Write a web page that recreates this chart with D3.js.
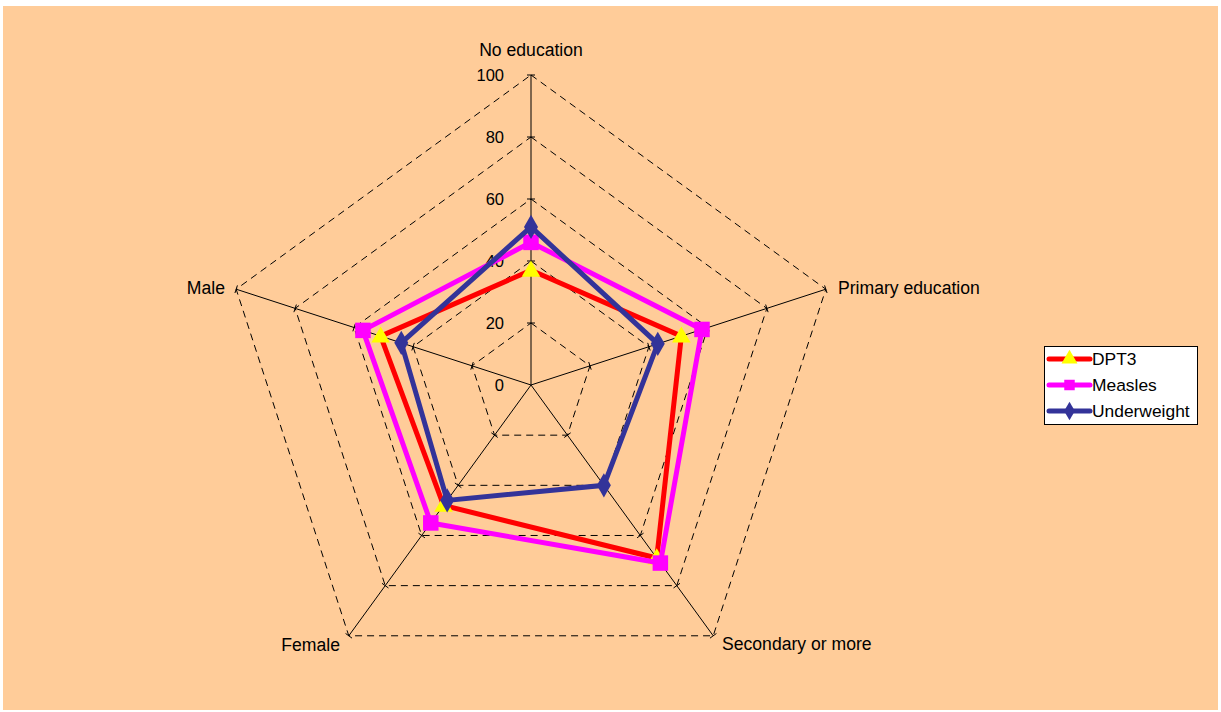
<!DOCTYPE html>
<html>
<head>
<meta charset="utf-8">
<script src="https://cdn.jsdelivr.net/npm/d3@7"></script>
<style>
  html, body { margin: 0; padding: 0; background: #ffffff; }
  svg { display: block; font-family: "Liberation Sans", Arial, sans-serif; }
</style>
</head>
<body>
<svg id="chart" width="1221" height="712"></svg>
<script>
// Radar chart: coverage by mother's education and child's sex
const categories = ["No education", "Primary education", "Secondary or more", "Female", "Male"];
const dpt3 = [37, 51, 69, 48, 51];
const measles = [46, 58, 71, 55, 57];
const underweight = [51, 43, 40, 46, 44];
const tickValues = [0, 20, 40, 60, 80, 100];

const seriesList = [
  { name: "DPT3", values: dpt3, line: "#ff0000", fill: "#ffff00", marker: "triangle" },
  { name: "Measles", values: measles, line: "#ff00ff", fill: "#ff00ff", marker: "square" },
  { name: "Underweight", values: underweight, line: "#333399", fill: "#333399", marker: "diamond" }
];

const svg = d3.select("#chart");
svg.append("rect").attr("x", 3).attr("y", 6).attr("width", 1215).attr("height", 704)
  .attr("fill", "#ffcc99");

const cx = 531, cy = 385, R = 310;
const r = d3.scaleLinear().domain([0, 100]).range([0, R]);
const angle = d3.scalePoint().domain(categories).range([0, 2 * Math.PI * (categories.length - 1) / categories.length]);
const pt = (cat, v) => {
  const a = angle(cat);
  return [cx + r(v) * Math.sin(a), cy - r(v) * Math.cos(a)];
};

const g = svg.append("g");

// dashed grid rings
tickValues.filter(t => t > 0).forEach(t => {
  g.append("path")
    .attr("d", d3.line()(categories.map(c => pt(c, t))) + "Z")
    .attr("fill", "none").attr("stroke", "#000").attr("stroke-width", 1)
    .attr("stroke-dasharray", "7,5");
});

// spokes with small tick marks
categories.forEach(c => {
  const [x1, y1] = pt(c, 100);
  g.append("line").attr("x1", cx).attr("y1", cy).attr("x2", x1).attr("y2", y1)
    .attr("stroke", "#000").attr("stroke-width", 1);
  const a = angle(c);
  const px = Math.cos(a), py = Math.sin(a);
  tickValues.filter(t => t > 0).forEach(t => {
    const [x, y] = pt(c, t);
    g.append("line")
      .attr("x1", x - 4 * px).attr("y1", y - 4 * py)
      .attr("x2", x + 4 * px).attr("y2", y + 4 * py)
      .attr("stroke", "#000").attr("stroke-width", 1);
  });
});

// value labels on the first spoke
tickValues.forEach(t => {
  g.append("text").attr("x", cx - 27).attr("y", cy - r(t))
    .attr("dy", "0.35em").attr("text-anchor", "end")
    .attr("font-size", 16.5).attr("fill", "#000").text(t);
});

// category labels
const labelPos = {
  "No education": { x: 531, y: 50, anchor: "middle" },
  "Primary education": { x: 838, y: 288, anchor: "start" },
  "Secondary or more": { x: 722, y: 644, anchor: "start" },
  "Female": { x: 340, y: 645, anchor: "end" },
  "Male": { x: 225, y: 288, anchor: "end" }
};
categories.forEach(c => {
  const p = labelPos[c];
  g.append("text").attr("x", p.x).attr("y", p.y).attr("dy", "0.35em")
    .attr("text-anchor", p.anchor).attr("font-size", 17.6).attr("fill", "#000").text(c);
});

const symbolFor = {
  triangle: d3.symbol().type(d3.symbolTriangle).size(150),
  square: d3.symbol().type(d3.symbolSquare).size(240),
  diamond: d3.symbol().type(d3.symbolDiamond).size(170)
};

// series polygons and markers
seriesList.forEach(s => {
  const pts = categories.map((c, i) => pt(c, s.values[i]));
  g.append("path").attr("d", d3.line()(pts) + "Z")
    .attr("fill", "none").attr("stroke", s.line).attr("stroke-width", 5)
    .attr("stroke-linejoin", "miter");
  pts.forEach(p => {
    g.append("path").attr("d", symbolFor[s.marker]())
      .attr("transform", `translate(${p[0]},${p[1] + (s.marker === "triangle" ? 1 : 0)})`)
      .attr("fill", s.fill).attr("stroke", "none");
  });
});

// legend
const lg = svg.append("g");
lg.append("rect").attr("x", 1044.5).attr("y", 346.5).attr("width", 153).attr("height", 78)
  .attr("fill", "#fff").attr("stroke", "#000").attr("stroke-width", 1);
const legendY = d3.scalePoint().domain(seriesList.map(s => s.name)).range([359, 411]);
seriesList.forEach(s => {
  const y = legendY(s.name);
  lg.append("line").attr("x1", 1049).attr("x2", 1090).attr("y1", y).attr("y2", y)
    .attr("stroke", s.line).attr("stroke-width", 5).attr("stroke-linecap", "round");
  const sym = {
    triangle: d3.symbol().type(d3.symbolTriangle).size(110),
    square: d3.symbol().type(d3.symbolSquare).size(110),
    diamond: d3.symbol().type(d3.symbolDiamond).size(100)
  }[s.marker];
  lg.append("path").attr("d", sym())
    .attr("transform", `translate(1069.5,${y})`)
    .attr("fill", s.fill);
  lg.append("text").attr("x", 1092).attr("y", y).attr("dy", "0.35em")
    .attr("font-size", 17.4).attr("fill", "#000").text(s.name);
});
</script>
</body>
</html>
